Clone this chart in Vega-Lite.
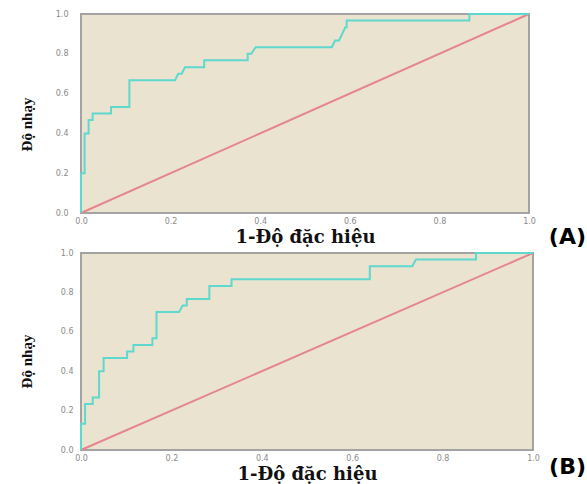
{
  "$schema": "https://vega.github.io/schema/vega-lite/v6.json",
  "background": "white",
  "padding": {"left": 18, "top": 9, "right": 0, "bottom": 0},
  "spacing": 40,
  "bounds": "flush",
  "datasets": {
    "rocA": [
      {"o": 1, "fpr": 0, "tpr": 0}, {"o": 2, "fpr": 0, "tpr": 0.2}, {"o": 3, "fpr": 0.008, "tpr": 0.2},
      {"o": 4, "fpr": 0.008, "tpr": 0.4}, {"o": 5, "fpr": 0.017, "tpr": 0.4}, {"o": 6, "fpr": 0.017, "tpr": 0.467},
      {"o": 7, "fpr": 0.026, "tpr": 0.467}, {"o": 8, "fpr": 0.026, "tpr": 0.5}, {"o": 9, "fpr": 0.067, "tpr": 0.5},
      {"o": 10, "fpr": 0.067, "tpr": 0.533}, {"o": 11, "fpr": 0.108, "tpr": 0.533}, {"o": 12, "fpr": 0.108, "tpr": 0.667},
      {"o": 13, "fpr": 0.21, "tpr": 0.667}, {"o": 14, "fpr": 0.217, "tpr": 0.7}, {"o": 15, "fpr": 0.225, "tpr": 0.7},
      {"o": 16, "fpr": 0.232, "tpr": 0.733}, {"o": 17, "fpr": 0.275, "tpr": 0.733}, {"o": 18, "fpr": 0.275, "tpr": 0.767},
      {"o": 19, "fpr": 0.372, "tpr": 0.767}, {"o": 20, "fpr": 0.372, "tpr": 0.8}, {"o": 21, "fpr": 0.38, "tpr": 0.8},
      {"o": 22, "fpr": 0.39, "tpr": 0.833}, {"o": 23, "fpr": 0.56, "tpr": 0.833}, {"o": 24, "fpr": 0.567, "tpr": 0.867},
      {"o": 25, "fpr": 0.576, "tpr": 0.867}, {"o": 26, "fpr": 0.59, "tpr": 0.933}, {"o": 27, "fpr": 0.593, "tpr": 0.933},
      {"o": 28, "fpr": 0.593, "tpr": 0.967}, {"o": 29, "fpr": 0.867, "tpr": 0.967}, {"o": 30, "fpr": 0.867, "tpr": 1},
      {"o": 31, "fpr": 1, "tpr": 1}
    ],
    "rocB": [
      {"o": 1, "fpr": 0, "tpr": 0}, {"o": 2, "fpr": 0, "tpr": 0.133}, {"o": 3, "fpr": 0.009, "tpr": 0.133},
      {"o": 4, "fpr": 0.009, "tpr": 0.233}, {"o": 5, "fpr": 0.026, "tpr": 0.233}, {"o": 6, "fpr": 0.026, "tpr": 0.267},
      {"o": 7, "fpr": 0.04, "tpr": 0.267}, {"o": 8, "fpr": 0.04, "tpr": 0.4}, {"o": 9, "fpr": 0.05, "tpr": 0.4},
      {"o": 10, "fpr": 0.05, "tpr": 0.467}, {"o": 11, "fpr": 0.102, "tpr": 0.467}, {"o": 12, "fpr": 0.102, "tpr": 0.5},
      {"o": 13, "fpr": 0.116, "tpr": 0.5}, {"o": 14, "fpr": 0.116, "tpr": 0.533}, {"o": 15, "fpr": 0.158, "tpr": 0.533},
      {"o": 16, "fpr": 0.158, "tpr": 0.567}, {"o": 17, "fpr": 0.167, "tpr": 0.567}, {"o": 18, "fpr": 0.167, "tpr": 0.7},
      {"o": 19, "fpr": 0.217, "tpr": 0.7}, {"o": 20, "fpr": 0.225, "tpr": 0.733}, {"o": 21, "fpr": 0.234, "tpr": 0.733},
      {"o": 22, "fpr": 0.234, "tpr": 0.767}, {"o": 23, "fpr": 0.284, "tpr": 0.767}, {"o": 24, "fpr": 0.284, "tpr": 0.833},
      {"o": 25, "fpr": 0.333, "tpr": 0.833}, {"o": 26, "fpr": 0.333, "tpr": 0.867}, {"o": 27, "fpr": 0.639, "tpr": 0.867},
      {"o": 28, "fpr": 0.639, "tpr": 0.933}, {"o": 29, "fpr": 0.733, "tpr": 0.933}, {"o": 30, "fpr": 0.741, "tpr": 0.967},
      {"o": 31, "fpr": 0.874, "tpr": 0.967}, {"o": 32, "fpr": 0.874, "tpr": 1}, {"o": 33, "fpr": 1, "tpr": 1}
    ],
    "diag": [{"o": 1, "fpr": 0, "tpr": 0}, {"o": 2, "fpr": 1, "tpr": 1}]
  },
  "config": {
    "view": {"fill": "#EAE3D0", "stroke": "#A3A3A3", "strokeWidth": 2},
    "axis": {
      "grid": false, "ticks": false, "domain": false, "labelOverlap": false, "labelFlush": false,
      "labelFont": "DejaVu Sans", "labelFontSize": 8, "labelColor": "#8A8A8A",
      "titleFontWeight": "bold", "titleColor": "#111111"
    },
    "axisX": {"titleFont": "DejaVu Serif", "titleFontSize": 18, "titleBaseline": "alphabetic", "titleY": 29, "labelPadding": 4},
    "axisY": {"titleFont": "Liberation Serif", "titleFontSize": 15, "titleBaseline": "middle", "titleX": -55},
    "title": {"font": "DejaVu Sans", "fontSize": 22, "fontWeight": "bold", "color": "#000000"}
  },
  "vconcat": [
    {
      "width": 448, "height": 199,
      "title": {"text": "(A)", "orient": "bottom", "anchor": "end", "frame": "group", "dx": 57, "dy": -23},
      "encoding": {
        "x": {"field": "fpr", "type": "quantitative", "scale": {"domain": [0, 1], "nice": false},
              "axis": {"values": [0, 0.2, 0.4, 0.6, 0.8, 1], "format": ".1f", "title": "1-Độ đặc hiệu"}},
        "y": {"field": "tpr", "type": "quantitative", "scale": {"domain": [0, 1], "nice": false},
              "axis": {"values": [0, 0.2, 0.4, 0.6, 0.8, 1], "format": ".1f", "labelPadding": 13, "title": "Độ nhạy", "titleY": 110}},
        "order": {"field": "o", "type": "quantitative"}
      },
      "layer": [
        {"data": {"name": "diag"}, "mark": {"type": "line", "color": "#E4868C", "strokeWidth": 2}},
        {"data": {"name": "rocA"}, "mark": {"type": "line", "color": "#5FD8CE", "strokeWidth": 2}}
      ]
    },
    {
      "width": 452, "height": 197,
      "title": {"text": "(B)", "orient": "bottom", "anchor": "end", "frame": "group", "dx": 53, "dy": -30},
      "encoding": {
        "x": {"field": "fpr", "type": "quantitative", "scale": {"domain": [0, 1], "nice": false},
              "axis": {"values": [0, 0.2, 0.4, 0.6, 0.8, 1], "format": ".1f", "title": "1-Độ đặc hiệu"}},
        "y": {"field": "tpr", "type": "quantitative", "scale": {"domain": [0, 1], "nice": false},
              "axis": {"values": [0, 0.2, 0.4, 0.6, 0.8, 1], "format": ".1f", "labelPadding": 8, "title": "Độ nhạy", "titleY": 108}},
        "order": {"field": "o", "type": "quantitative"}
      },
      "layer": [
        {"data": {"name": "diag"}, "mark": {"type": "line", "color": "#E4868C", "strokeWidth": 2}},
        {"data": {"name": "rocB"}, "mark": {"type": "line", "color": "#5FD8CE", "strokeWidth": 2}}
      ]
    }
  ]
}
